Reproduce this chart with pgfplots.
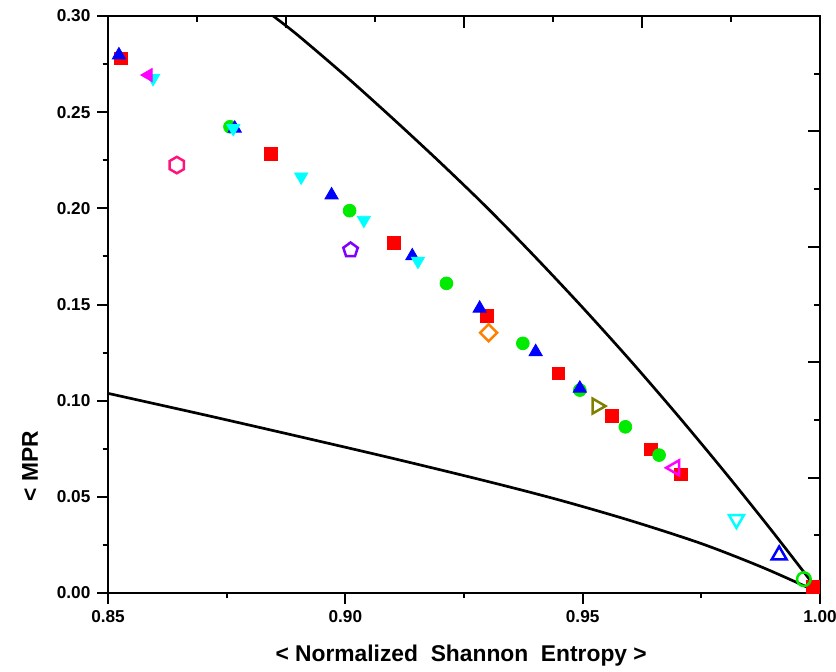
\documentclass[border=0pt]{standalone}
\usepackage{fontspec}
\setmainfont{Liberation Sans}
\usepackage{pgfplots}
\pgfplotsset{compat=1.18}
\usetikzlibrary{plotmarks}

\pgfdeclareplotmark{hexagon}{%
  \pgfpathmoveto{\pgfqpointpolar{90}{\pgfplotmarksize}}%
  \pgfpathlineto{\pgfqpointpolar{150}{\pgfplotmarksize}}%
  \pgfpathlineto{\pgfqpointpolar{210}{\pgfplotmarksize}}%
  \pgfpathlineto{\pgfqpointpolar{270}{\pgfplotmarksize}}%
  \pgfpathlineto{\pgfqpointpolar{330}{\pgfplotmarksize}}%
  \pgfpathlineto{\pgfqpointpolar{30}{\pgfplotmarksize}}%
  \pgfpathclose
  \pgfusepathqstroke}

\definecolor{cRed}{RGB}{255,0,0}
\definecolor{cBlue}{RGB}{0,0,255}
\definecolor{cGreen}{RGB}{0,235,0}
\definecolor{cCyan}{RGB}{0,255,255}
\definecolor{cMag}{RGB}{255,0,255}
\definecolor{cPink}{RGB}{255,20,125}
\definecolor{cViolet}{RGB}{128,0,255}
\definecolor{cOrange}{RGB}{255,128,0}
\definecolor{cOlive}{RGB}{128,128,0}

\begin{document}
\begin{tikzpicture}
\useasboundingbox (-54pt,-39pt) rectangle (364pt,296.5pt);
\clip (-54pt,-39pt) rectangle (364pt,296.5pt);

% secondary axis: top and right ticks (inside)
\begin{axis}[
  at={(0,0)}, anchor=south west,
  scale only axis, width=356pt, height=288.5pt,
  xmin=0.85, xmax=1.0, ymin=0, ymax=0.30,
  axis line style={line width=1pt},
  tick align=inside,
  xtick pos=right, ytick pos=right,
  xtick={0.85,0.8875,0.925,0.9625,1.0},
  minor xtick={0.86875,0.90625,0.94375,0.98125},
  ytick={0,0.06,0.12,0.18,0.24,0.30},
  minor ytick={0.03,0.09,0.15,0.21,0.27},
  xticklabels={}, yticklabels={},
  major tick length=5.8pt, minor tick length=3pt,
  every tick/.style={line width=1pt, black},
]
\end{axis}

\begin{axis}[
  at={(0,0)}, anchor=south west,
  scale only axis, width=356pt, height=288.5pt,
  xmin=0.85, xmax=1.0, ymin=0, ymax=0.30,
  axis line style={line width=1pt},
  tick align=outside,
  xtick pos=left, ytick pos=left,
  xtick={0.85,0.90,0.95,1.00},
  minor xtick={0.875,0.925,0.975},
  ytick={0,0.05,0.10,0.15,0.20,0.25,0.30},
  minor ytick={0.025,0.075,0.125,0.175,0.225,0.275},
  major tick length=5.3pt, minor tick length=2.7pt,
  every tick/.style={line width=1pt, black},
  /pgf/number format/assume math mode=true,
  xticklabel style={/pgf/number format/.cd, fixed, fixed zerofill, precision=2},
  yticklabel style={/pgf/number format/.cd, fixed, fixed zerofill, precision=2},
  tick label style={font=\bfseries\fontsize{8.6}{10}\selectfont},
  xlabel={< Normalized\ \ Shannon\ \ Entropy >},
  ylabel={< MPR},
  label style={font=\bfseries\fontsize{11.4}{13}\selectfont},
  xlabel style={at={(axis description cs:0.496,-0.109)}, anchor=center},
  ylabel style={at={(axis description cs:-0.1096,0.22)}, anchor=center},
]
% upper curve
\addplot[black, line width=1.35pt, no marks, smooth, tension=0.5] coordinates {
(0.8848,0.300) (0.8900,0.2900) (0.9000,0.2689) (0.9100,0.2467) (0.9200,0.2238)
(0.9300,0.2000) (0.9400,0.1747) (0.9500,0.1484) (0.9600,0.1210) (0.9700,0.0924)
(0.9800,0.0627) (0.9900,0.0319) (1.0,0.0)};
% lower curve
\addplot[black, line width=1.35pt, no marks, smooth, tension=0.5] coordinates {
(0.85,0.1038) (0.87,0.0928) (0.89,0.0815) (0.91,0.0700) (0.93,0.0580)
(0.945,0.0484) (0.96,0.0377) (0.975,0.0257) (0.988,0.0132) (1.0,0.0)};

% red squares
\addplot[only marks, mark=square*, mark size=3.2pt, color=cRed] coordinates {
(0.8527,0.278) (0.8843,0.2281) (0.9102,0.1821) (0.9298,0.1440) (0.9449,0.1142)
(0.9562,0.0920) (0.9644,0.0747) (0.9707,0.0617) (0.9985,0.003)};
% green circles
\addplot[only marks, mark=*, mark size=3.2pt, color=cGreen] coordinates {
(0.8757,0.2424) (0.9009,0.1988) (0.9213,0.1610) (0.9374,0.1298) (0.9494,0.1055)
(0.9590,0.0864) (0.9661,0.0717)};
% blue triangles
\addplot[only marks, mark=triangle*, mark size=3.8pt, color=cBlue] coordinates {
(0.8523,0.2797) (0.8767,0.2416) (0.8971,0.2069) (0.9141,0.1752) (0.9283,0.1480)
(0.9401,0.1254) (0.9494,0.1064)};
% cyan down triangles
\addplot[only marks, mark=triangle*, mark size=3.8pt, color=cCyan, mark options={rotate=180}] coordinates {
(0.8595,0.2676) (0.8764,0.2416) (0.8907,0.2164) (0.9039,0.1939) (0.9153,0.1726)};
% magenta left triangle
\addplot[only marks, mark=triangle*, mark size=3.8pt, color=cMag, mark options={rotate=90}] coordinates {
(0.8585,0.2693)};

% open markers
\addplot[only marks, mark=hexagon, mark size=4.1pt, color=cPink, mark options={line width=1.25pt}] coordinates {(0.8645,0.2225)};
\addplot[only marks, mark=pentagon, mark size=3.8pt, color=cViolet, mark options={line width=1.25pt}] coordinates {(0.9011,0.1783)};
\addplot[only marks, mark=square, mark size=3.0pt, color=cOrange, mark options={line width=1.25pt, rotate=45}] coordinates {(0.9302,0.1353)};
\addplot[only marks, mark=triangle, mark size=4.3pt, color=cOlive, mark options={line width=1.25pt, rotate=-90}] coordinates {(0.9530,0.0972)};
\addplot[only marks, mark=triangle, mark size=4.3pt, color=cMag, mark options={line width=1.25pt, rotate=90}] coordinates {(0.9694,0.0651)};
\addplot[only marks, mark=triangle, mark size=4.3pt, color=cCyan, mark options={line width=1.25pt, rotate=180}] coordinates {(0.9824,0.0383)};
\addplot[only marks, mark=triangle, mark size=4.3pt, color=cBlue, mark options={line width=1.25pt}] coordinates {(0.9914,0.0197)};
\addplot[only marks, mark=o, mark size=3.4pt, color=cGreen, mark options={line width=1.25pt}] coordinates {(0.9966,0.0072)};
\end{axis}
\end{tikzpicture}
\end{document}
